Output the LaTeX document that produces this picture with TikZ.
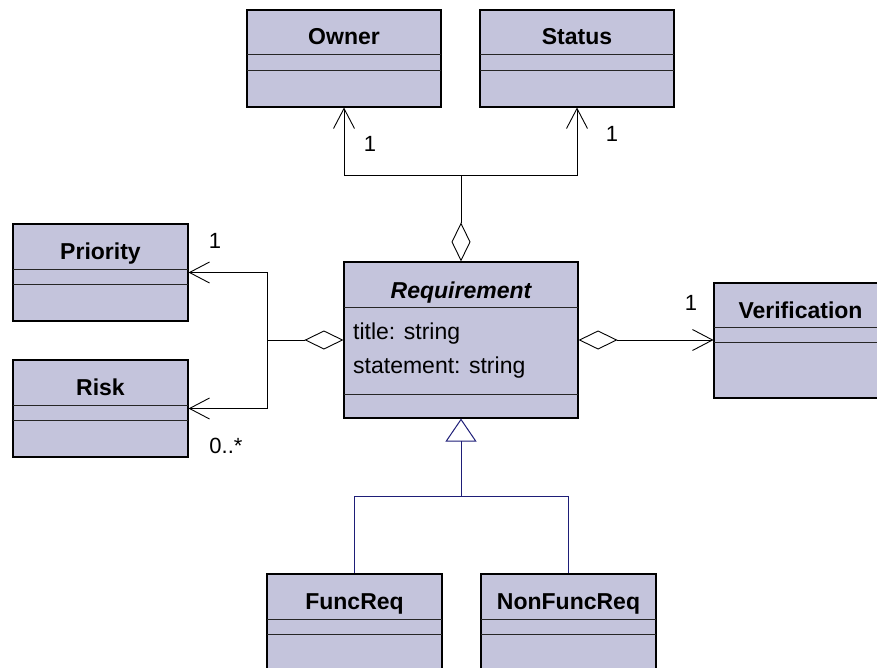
\documentclass[tikz,border=0pt]{standalone}
\usepackage{fontspec}
\setmainfont{Liberation Sans}
\usetikzlibrary{arrows.meta}
\definecolor{boxfill}{RGB}{196,196,220}
\definecolor{navyline}{RGB}{30,30,120}
\tikzset{
  classbox/.style={draw=black, line width=1.1pt, fill=boxfill, inner sep=0pt, rectangle},
  divider/.style={draw=black!85, line width=0.9pt},
  titletext/.style={font=\fontsize{23}{27}\selectfont\bfseries, inner sep=0pt, anchor=base},
  attrtext/.style={font=\fontsize{23}{27}\selectfont, inner sep=0pt, anchor=base west},
  multlabel/.style={font=\fontsize{22}{26}\selectfont, inner sep=0pt},
  assoc/.style={draw=black, line width=0.9pt, line join=miter, -{Straight Barb[length=20pt,width=21pt,line width=0.9pt]}},
  agg/.style={draw=black, line width=0.9pt, line join=miter, {Diamond[open,length=39pt,width=19pt,line width=0.9pt]}-{Straight Barb[length=20pt,width=21pt,line width=0.9pt]}},
  aggline/.style={draw=black, line width=0.9pt, {Diamond[open,length=39pt,width=19pt,line width=0.9pt]}-},
  genhead/.style={draw=navyline, line width=1pt, {Triangle[open,length=23pt,width=31pt,line width=1pt]}-},
  genline/.style={draw=navyline, line width=1pt}
}
% #1 name, #2 left, #3 top, #4 right, #5 bottom, #6 div1, #7 div2, #8 title
\newcommand\umlclass[8]{%
  \node[classbox, minimum width={#4-#2}, minimum height={#5-#3}] (#1) at ({(#2+#4)/2},{(#3+#5)/2}) {};
  \draw[divider] (#2,#6) -- (#4,#6);
  \draw[divider] (#2,#7) -- (#4,#7);
  \node[titletext] (#1-title) at ({(#2+#4)/2},{(#3+#6)/2+13}) {#8};
}
\begin{document}
\begin{tikzpicture}[x=1pt,y=-1pt]
\useasboundingbox (0,0) rectangle (877,668);
\clip (0,0) rectangle (877,668);
\fill[white] (0,0) rectangle (877,668);

\umlclass{owner}{247}{10}{441}{107}{54}{70}{Owner}
\umlclass{status}{480}{10}{674}{107}{54}{70}{Status}
\umlclass{priority}{13}{224}{188}{321}{269}{284}{Priority}
\umlclass{risk}{13}{360}{188}{457}{405}{420}{Risk}
\umlclass{verif}{714}{283}{887}{398}{327}{342}{Verification}
\umlclass{funcreq}{267}{574}{442}{700}{619}{634}{FuncReq}
\umlclass{nonfunc}{481}{574}{656}{700}{619}{634}{NonFuncReq}

% Requirement (abstract class)
\node[classbox, minimum width=234, minimum height=156] (req) at (461,340) {};
\draw[divider] (344,307) -- (578,307);
\draw[divider] (344,394) -- (578,394);
\node[titletext, font=\fontsize{23}{27}\selectfont\bfseries\itshape] (req-title) at (461,298) {Requirement};
\node[attrtext] (req-a1) at (353,339) {title: string};
\node[attrtext] (req-a2) at (353,373) {statement: string};

% junctions
\coordinate (jt) at (461,175);
\coordinate (jl) at (267,340);
\coordinate (jb) at (461,496);

% aggregations to Owner / Status
\draw[aggline] (req.north) -- (jt);
\draw[assoc] (jt) -| (owner.south);
\draw[assoc] (jt) -| (status.south);

% aggregations to Priority / Risk
\draw[aggline] (req.west) -- (jl);
\draw[assoc] (jl) |- (priority.east);
\draw[assoc] (jl) |- (risk.east);

% aggregation to Verification
\draw[agg] (req.east) -- (req.east -| verif.west);

% generalization
\draw[genhead] (req.south) -- (jb);
\draw[genline] (jb) -| (funcreq.north);
\draw[genline] (jb) -| (nonfunc.north);

% multiplicities
\node[multlabel] (m1) at (370,144) {1};
\node[multlabel] (m2) at (612,134) {1};
\node[multlabel] (m3) at (215,241) {1};
\node[multlabel] (m4) at (226,446) {0..*};
\node[multlabel] (m5) at (691,303) {1};
\end{tikzpicture}
\end{document}
